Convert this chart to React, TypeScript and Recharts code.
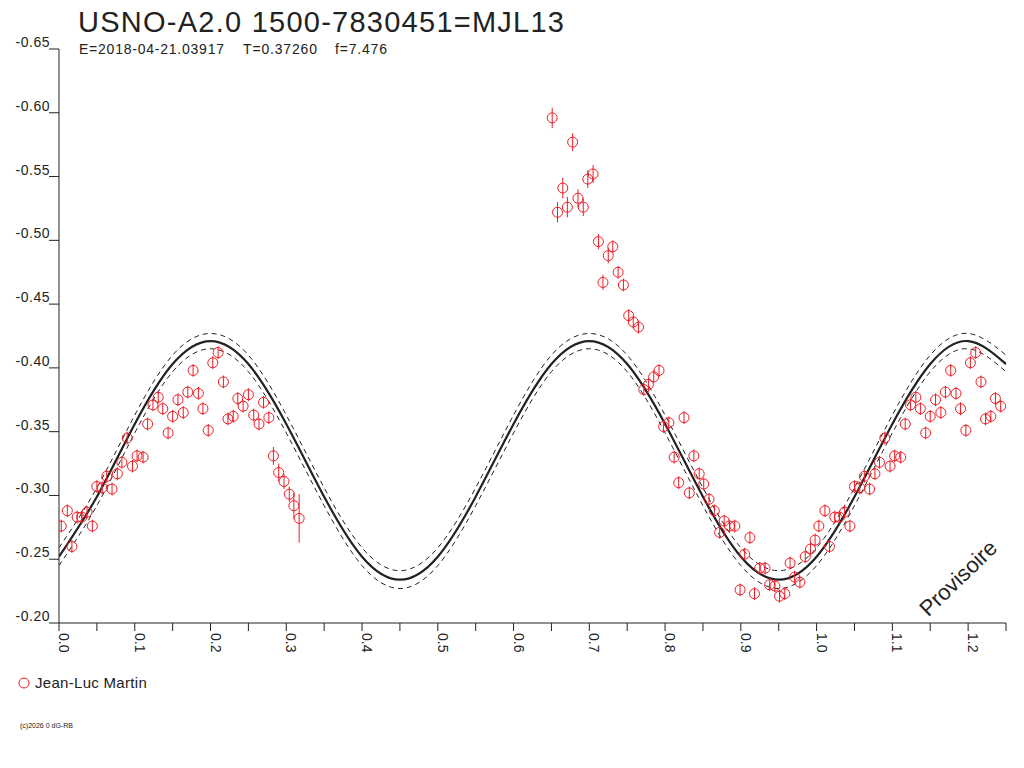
import { ComposedChart, Line, Scatter, ErrorBar, XAxis, YAxis } from "recharts";

const RED = "#ee1c25";
const INK = "#222";
const FONT = "'Liberation Sans', Arial, sans-serif";

// observations (phase, magnitude, error)
const phases = [
  0.003, 0.011, 0.017, 0.024, 0.030, 0.037, 0.044, 0.050, 0.057, 0.063,
  0.070, 0.077, 0.083, 0.090, 0.097, 0.103, 0.111, 0.117, 0.124, 0.131,
  0.137, 0.144, 0.150, 0.157, 0.164, 0.170, 0.177, 0.184, 0.190, 0.197,
  0.203, 0.210, 0.217, 0.223, 0.230, 0.236, 0.243, 0.250, 0.257, 0.264,
  0.270, 0.277, 0.283, 0.290, 0.297, 0.304, 0.310, 0.317,
  0.651, 0.658, 0.665, 0.671, 0.678, 0.685, 0.692, 0.698, 0.705,
  0.712, 0.718, 0.725, 0.731, 0.738, 0.745, 0.752, 0.758, 0.765,
  0.772, 0.778, 0.785, 0.792, 0.798, 0.805, 0.812, 0.818, 0.825, 0.832,
  0.838, 0.845, 0.851, 0.858, 0.865, 0.872, 0.878, 0.885, 0.892, 0.899,
  0.905, 0.912, 0.918, 0.925, 0.932, 0.938, 0.945, 0.951, 0.958, 0.965,
  0.971, 0.978, 0.985, 0.992, 0.998,
];

const mags = [
  -0.276, -0.288, -0.260, -0.283, -0.283, -0.287, -0.276, -0.307, -0.306, -0.315,
  -0.305, -0.317, -0.326, -0.345, -0.323, -0.331, -0.330, -0.356, -0.371, -0.377,
  -0.368, -0.349, -0.362, -0.375, -0.365, -0.381, -0.398, -0.380, -0.368, -0.351,
  -0.404, -0.412, -0.389, -0.360, -0.362, -0.376, -0.370, -0.379, -0.363, -0.356,
  -0.373, -0.361, -0.331, -0.318, -0.311, -0.301, -0.292, -0.282,
  -0.596, -0.522, -0.541, -0.526, -0.577, -0.533, -0.526, -0.548, -0.552,
  -0.499, -0.467, -0.488, -0.495, -0.475, -0.465, -0.441, -0.436, -0.432,
  -0.383, -0.387, -0.393, -0.398, -0.354, -0.357, -0.330, -0.310, -0.361, -0.302,
  -0.331, -0.317, -0.309, -0.297, -0.288, -0.271, -0.280, -0.276, -0.276, -0.226,
  -0.254, -0.267, -0.223, -0.243, -0.243, -0.230, -0.229, -0.221, -0.223, -0.247,
  -0.236, -0.232, -0.252, -0.258, -0.265,
];

const errs = [
  0.005, 0.005, 0.005, 0.005, 0.005, 0.005, 0.005, 0.005, 0.005, 0.005,
  0.005, 0.005, 0.005, 0.005, 0.005, 0.005, 0.005, 0.005, 0.005, 0.005,
  0.005, 0.005, 0.005, 0.005, 0.005, 0.005, 0.005, 0.005, 0.005, 0.005,
  0.005, 0.005, 0.005, 0.005, 0.005, 0.005, 0.005, 0.005, 0.005, 0.005,
  0.005, 0.005, 0.007, 0.007, 0.006, 0.006, 0.010, 0.019,
  0.008, 0.008, 0.008, 0.008, 0.007, 0.007, 0.007, 0.007, 0.007,
  0.006, 0.006, 0.006, 0.005, 0.005, 0.005, 0.005, 0.005, 0.005,
  0.005, 0.005, 0.005, 0.005, 0.005, 0.005, 0.005, 0.005, 0.005, 0.005,
  0.005, 0.005, 0.005, 0.005, 0.005, 0.005, 0.005, 0.005, 0.005, 0.005,
  0.005, 0.005, 0.005, 0.005, 0.005, 0.005, 0.005, 0.005, 0.005, 0.005,
  0.005, 0.005, 0.005, 0.005, 0.005,
];

// fitted curve and its envelope, read every 0.05 in phase
const fitPhase = [
  0.0, 0.05, 0.1, 0.15, 0.2, 0.25, 0.3, 0.35, 0.4, 0.45, 0.5, 0.55, 0.6,
  0.65, 0.7, 0.75, 0.8, 0.85, 0.9, 0.95, 1.0, 1.05, 1.1, 1.15, 1.2, 1.25,
];
const fitMag = [
  -0.252, -0.299, -0.356, -0.403, -0.421, -0.403, -0.356, -0.299, -0.252, -0.234, -0.252, -0.299, -0.356,
  -0.403, -0.421, -0.403, -0.356, -0.299, -0.252, -0.234, -0.252, -0.299, -0.356, -0.403, -0.421, -0.403,
];
const fitUpper = [
  -0.259, -0.306, -0.363, -0.410, -0.427, -0.410, -0.363, -0.306, -0.259, -0.241, -0.259, -0.306, -0.363,
  -0.410, -0.427, -0.410, -0.363, -0.306, -0.259, -0.241, -0.259, -0.306, -0.363, -0.410, -0.427, -0.410,
];
const fitLower = [
  -0.245, -0.292, -0.349, -0.397, -0.415, -0.397, -0.349, -0.292, -0.245, -0.227, -0.245, -0.292, -0.349,
  -0.397, -0.415, -0.397, -0.349, -0.292, -0.245, -0.227, -0.245, -0.292, -0.349, -0.397, -0.415, -0.397,
];

const xTicks = [
  0, 0.05, 0.1, 0.15, 0.2, 0.25, 0.3, 0.35, 0.4, 0.45, 0.5, 0.55, 0.6,
  0.65, 0.7, 0.75, 0.8, 0.85, 0.9, 0.95, 1.0, 1.05, 1.1, 1.15, 1.2, 1.25,
];
const yTicks = [-0.65, -0.6, -0.55, -0.5, -0.45, -0.4, -0.35, -0.3, -0.25, -0.2];

const observer = "Jean-Luc Martin";

const obs = phases.map((p, i) => ({ phase: p, mag: mags[i], err: errs[i] }));
// phases below 0.25 are repeated one cycle later
const points = [
  ...obs,
  ...obs.filter((d) => d.phase < 0.249).map((d) => ({ ...d, phase: d.phase + 1 })),
];
const fit = fitPhase.map((p, i) => ({ phase: p, mag: fitMag[i] }));
const fitHi = fitPhase.map((p, i) => ({ phase: p, mag: fitUpper[i] }));
const fitLo = fitPhase.map((p, i) => ({ phase: p, mag: fitLower[i] }));

const XTick = (props: any) => {
  const { x, y, payload } = props;
  const v = payload.value as number;
  if (Math.round(v * 100) % 10 !== 0) return <g />;
  return (
    <text
      x={x}
      y={y}
      transform={`rotate(90 ${x} ${y})`}
      textAnchor="start"
      fontSize={14}
      fontFamily={FONT}
      fill={INK}
    >
      {v.toFixed(1)}
    </text>
  );
};

const YTick = (props: any) => {
  const { y, payload } = props;
  return (
    <text
      x={50}
      y={y - 2}
      textAnchor="end"
      fontSize={14}
      letterSpacing={0.5}
      fontFamily={FONT}
      fill={INK}
    >
      {(payload.value as number).toFixed(2)}
    </text>
  );
};

const Dot = (props: any) => {
  const { cx, cy } = props;
  return <circle cx={cx} cy={cy} r={5} fill="none" stroke={RED} strokeWidth={1} />;
};

export default function App() {
  return (
    <div style={{ position: "absolute", left: 0, top: 0, width: 1024, height: 768, background: "#fff" }}>
      <ComposedChart
        width={1024}
        height={768}
        margin={{ top: 49, right: 18, bottom: 115, left: 0 }}
      >
        <XAxis
          dataKey="phase"
          type="number"
          domain={[0, 1.25]}
          ticks={xTicks}
          interval={0}
          height={30}
          allowDataOverflow
          stroke={INK}
          tickSize={8}
          tick={<XTick />}
        />
        <YAxis
          type="number"
          domain={[-0.65, -0.2]}
          ticks={yTicks}
          interval={0}
          reversed
          width={59}
          allowDataOverflow
          stroke={INK}
          tickSize={10}
          tick={<YTick />}
        />
        <Line
          data={fitHi}
          dataKey="mag"
          type="natural"
          stroke={INK}
          strokeWidth={1}
          strokeDasharray="5 4"
          dot={false}
          legendType="none"
          isAnimationActive={false}
        />
        <Line
          data={fitLo}
          dataKey="mag"
          type="natural"
          stroke={INK}
          strokeWidth={1}
          strokeDasharray="5 4"
          dot={false}
          legendType="none"
          isAnimationActive={false}
        />
        <Line
          data={fit}
          dataKey="mag"
          type="natural"
          stroke={INK}
          strokeWidth={2.2}
          dot={false}
          legendType="none"
          isAnimationActive={false}
        />
        <Scatter
          name={observer}
          data={points}
          dataKey="mag"
          shape={<Dot />}
          isAnimationActive={false}
        >
          <ErrorBar dataKey="err" direction="y" width={0} stroke={RED} strokeWidth={1} />
        </Scatter>
      </ComposedChart>

      <svg
        width={1024}
        height={768}
        style={{ position: "absolute", left: 0, top: 0, pointerEvents: "none" }}
      >
        <g fontFamily={FONT} fill={INK}>
          <text x={78} y={32} fontSize={29} textLength={486} lengthAdjust="spacing">
            USNO-A2.0 1500-7830451=MJL13
          </text>
          <text x={79} y={54} fontSize={14} textLength={145} lengthAdjust="spacing">
            E=2018-04-21.03917
          </text>
          <text x={243} y={54} fontSize={14} textLength={74} lengthAdjust="spacing">
            T=0.37260
          </text>
          <text x={335} y={54} fontSize={14} textLength={52} lengthAdjust="spacing">
            f=7.476
          </text>
          <text
            x={958}
            y={578}
            dy="0.35em"
            fontSize={22}
            textAnchor="middle"
            transform="rotate(-44 958 578)"
          >
            Provisoire
          </text>
          <circle cx={24} cy={683} r={5} fill="none" stroke={RED} strokeWidth={1} />
          <text x={35} y={688} fontSize={15} letterSpacing={0.3}>
            {observer}
          </text>
          <text x={20} y={728} fontSize={7}>
            (c)2026 0 dG-RB
          </text>
        </g>
      </svg>
    </div>
  );
}
